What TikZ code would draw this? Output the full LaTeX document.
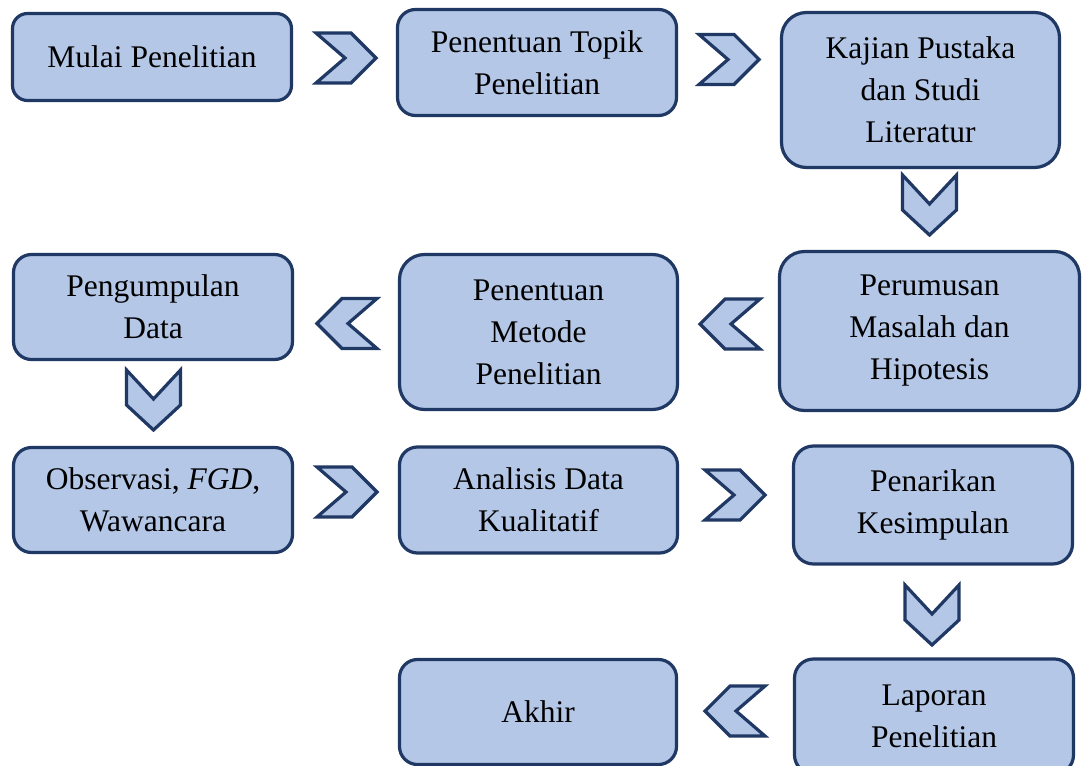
\documentclass[tikz,border=0pt]{standalone}
\usepackage{fontspec}
\setmainfont{Liberation Serif}
\definecolor{boxfill}{HTML}{B4C7E7}
\definecolor{boxline}{HTML}{1F3864}
\begin{document}
\begin{tikzpicture}[x=1pt,y=-1pt,
  box/.style={draw=boxline, fill=boxfill, line width=3.2pt, align=center,
    inner sep=0pt, outer sep=0pt, text=black,
    font=\fontsize{31.5}{42}\selectfont},
  chevstyle/.style={draw=boxline, fill=boxfill, line width=3.2pt, line join=miter},
  chevR/.pic={\path[chevstyle] (-30,-25) -- (5,-25) -- (30,0) -- (5,25) -- (-30,25) -- (-1,0) -- cycle;},
  chevL/.pic={\path[chevstyle] (30,-25) -- (-5,-25) -- (-30,0) -- (-5,25) -- (30,25) -- (1,0) -- cycle;},
  chevD/.pic={\path[chevstyle] (-27,-30) -- (0,-1) -- (27,-30) -- (27,5) -- (0,30) -- (-27,5) -- cycle;}
]
\useasboundingbox (0,0) rectangle (1083,765);
\fill[white] (0,0) rectangle (1083,765);

\node[box, rounded corners=15pt, minimum width=279pt, minimum height=87pt] (b1) at (152,57) {Mulai Penelitian};
\node[box, rounded corners=18pt, minimum width=279pt, minimum height=106pt] (b2) at (537,62.5) {Penentuan Topik\\Penelitian};
\node[box, rounded corners=25pt, minimum width=278pt, minimum height=155pt] (b3) at (920.5,90) {Kajian Pustaka\\dan Studi\\Literatur};
\node[box, rounded corners=25pt, minimum width=300pt, minimum height=159pt] (b4) at (929.5,331) {Perumusan\\Masalah dan\\Hipotesis};
\node[box, rounded corners=25pt, minimum width=278pt, minimum height=155pt] (b5) at (538.5,332) {Penentuan\\Metode\\Penelitian};
\node[box, rounded corners=18pt, minimum width=279pt, minimum height=105pt] (b6) at (153,307) {Pengumpulan\\Data};
\node[box, rounded corners=18pt, minimum width=279pt, minimum height=105pt] (b7) at (153,500) {Observasi, \textit{FGD},\\Wawancara};
\node[box, rounded corners=18pt, minimum width=278pt, minimum height=106pt] (b8) at (538.5,500) {Analisis Data\\Kualitatif};
\node[box, rounded corners=20pt, minimum width=279pt, minimum height=118pt] (b9) at (933,505) {Penarikan\\Kesimpulan};
\node[box, rounded corners=19pt, minimum width=279pt, minimum height=115pt] (b10) at (934,716.5) {Laporan\\Penelitian};
\node[box, rounded corners=18pt, minimum width=277pt, minimum height=105pt] (b11) at (538,712) {Akhir};

% chevron connectors
\pic at (346,58) {chevR};
\pic at (729,59.5) {chevR};
\pic at (929.5,205) {chevD};
\pic at (730,324) {chevL};
\pic at (347,323.5) {chevL};
\pic at (153.5,400) {chevD};
\pic at (347,492) {chevR};
\pic at (735,495) {chevR};
\pic at (932,615) {chevD};
\pic at (735,711) {chevL};
\end{tikzpicture}
\end{document}
